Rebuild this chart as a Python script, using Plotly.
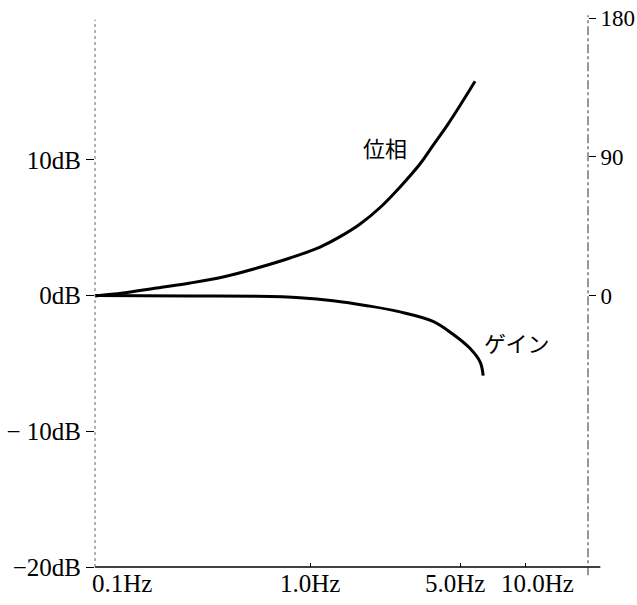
import math
import plotly.graph_objects as go

# ---- data ----
freq_phase = [0.1, 0.135, 0.194, 0.277, 0.394, 0.567, 0.807, 1.113, 1.379, 1.709,
              2.117, 2.622, 3.249, 3.73, 4.34, 4.99, 5.85]
phase_deg = [0, 1.9, 5.2, 8.4, 12.3, 18.1, 24.6, 31.7, 38.4, 46.6,
             57.3, 70.6, 85.6, 97.5, 110.5, 123.5, 139]

freq_gain = [0.1, 0.277, 0.567, 0.897, 1.28, 1.84, 2.62, 3.73, 4.62, 5.55, 6.18, 6.38]
gain_db = [0, -0.03, -0.05, -0.15, -0.37, -0.74, -1.2, -1.9, -2.85, -3.9, -4.9, -5.9]

x_tickvals = [0.1, 1.0, 5.0, 10.0]
x_ticktext = ["0.1Hz", "1.0Hz", "5.0Hz", "10.0Hz"]
x_label_shift = [27, 0, -5, 12]

y_tickvals = [-20, -10, 0, 10]
y_ticktext = ["\u221220dB", "\u2212 10dB", "0dB", "10dB"]

y2_tickvals = [0, 90, 180]
y2_ticktext = ["0", "90", "180"]

x_range = [0.1, 19.6]
y_range = [-20, 20.46]
y2_range = [-175.5, 180]

serif = "Liberation Serif, Times New Roman, serif"
label_font = dict(family=serif, size=25, color="black")
right_font = dict(family=serif, size=23, color="black")

fig = go.Figure()
fig.add_trace(go.Scatter(x=freq_gain, y=gain_db, mode="lines",
                         line=dict(color="black", width=3, shape="spline", smoothing=1.0),
                         yaxis="y", showlegend=False, hoverinfo="skip"))
fig.add_trace(go.Scatter(x=freq_phase, y=phase_deg, mode="lines",
                         line=dict(color="black", width=3, shape="spline", smoothing=1.0),
                         yaxis="y2", showlegend=False, hoverinfo="skip"))

fig.update_layout(
    template="none",
    width=637, height=605,
    margin=dict(l=95, r=49, t=18, b=38, pad=0, autoexpand=False),
    paper_bgcolor="white", plot_bgcolor="white",
    xaxis=dict(type="log", range=[math.log10(x_range[0]), math.log10(x_range[1])],
               tickvals=x_tickvals, ticktext=x_ticktext, showticklabels=False,
               ticks="inside", ticklen=4, tickcolor="black", automargin=False,
               showgrid=False, zeroline=False, showline=False),
    yaxis=dict(range=y_range, tickvals=y_tickvals, ticktext=y_ticktext,
               ticks="outside", ticklen=8, tickcolor="black", tickfont=label_font,
               automargin=False, showgrid=False, zeroline=False, showline=False),
    yaxis2=dict(range=y2_range, overlaying="y", side="right",
                tickvals=y2_tickvals, ticktext=y2_ticktext,
                ticks="outside", ticklen=7, tickcolor="black", tickfont=right_font,
                automargin=False, showgrid=False, zeroline=False, showline=False),
    shapes=[
        dict(type="line", xref="paper", yref="paper", x0=0, x1=1.025, y0=0, y1=0,
             line=dict(color="black", width=1.5)),
        dict(type="line", xref="paper", yref="paper", x0=0, x1=0, y0=0, y1=0.997,
             line=dict(color="#666", width=1, dash="dot")),
        dict(type="line", xref="paper", yref="paper", x0=1, x1=1, y0=-0.015, y1=1.005,
             line=dict(color="#333", width=1, dash="dashdot")),
    ],
)

annotations = []
for v, t, s in zip(x_tickvals, x_ticktext, x_label_shift):
    annotations.append(dict(x=math.log10(v), xref="x", y=0, yref="paper", text=t,
                            showarrow=False, xanchor="center", yanchor="top",
                            xshift=s, yshift=-1, font=dict(family=serif, size=25, color="black")))

cjk = dict(family="Noto Sans CJK JP", size=22, color="black")
annotations.append(dict(x=math.log10(2.23), xref="x", y=96.5, yref="y2", text="位相",
                        showarrow=False, font=cjk))
annotations.append(dict(x=math.log10(9.2), xref="x", y=-3.39, yref="y", text="ゲイン",
                        showarrow=False, font=cjk))
fig.update_layout(annotations=annotations)

fig.write_html("out.html")
